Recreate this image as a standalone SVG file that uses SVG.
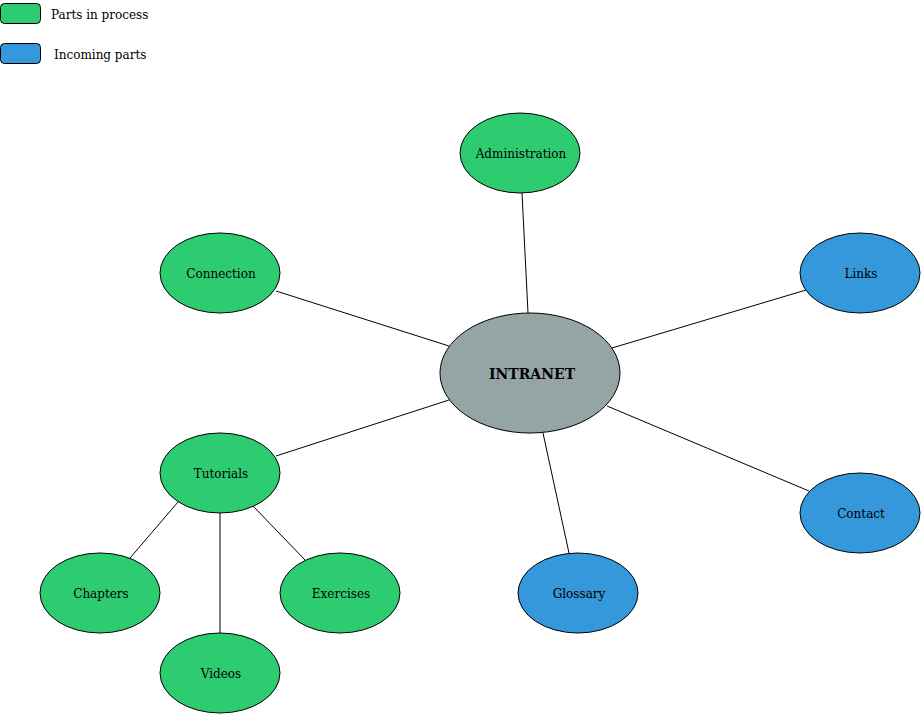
<svg xmlns="http://www.w3.org/2000/svg" width="921" height="714" viewBox="0 0 921 714">
<style>
.n{stroke:#000;stroke-width:1}
.g{fill:#2ECC71}
.b{fill:#3498DB}
.c{fill:#95A5A6}
text{font-family:"DejaVu Serif",serif;font-size:12px;fill:#000}
.t{text-anchor:middle;dominant-baseline:central}
.e line{stroke:#000;stroke-width:1}
</style>
<rect width="921" height="714" fill="#fff"/>
<g id="legend">
<rect x="0.5" y="3.5" width="40" height="20" rx="4" class="n g"/>
<text x="51" y="19">Parts in process</text>
<rect x="0.5" y="43.5" width="40" height="20" rx="4" class="n b"/>
<text x="54" y="59">Incoming parts</text>
</g>
<g class="e" id="connectors">
<line x1="522" y1="193" x2="528" y2="313"/>
<line x1="276" y1="291" x2="449" y2="346"/>
<line x1="806" y1="290" x2="612" y2="348"/>
<line x1="276" y1="456" x2="449" y2="400"/>
<line x1="809" y1="491" x2="607" y2="406"/>
<line x1="569" y1="553" x2="543" y2="433"/>
<line x1="130" y1="558" x2="178" y2="502"/>
<line x1="306" y1="561" x2="253" y2="506"/>
<line x1="220" y1="513" x2="220" y2="633"/>
</g>
<g id="intranet"><ellipse cx="530" cy="373" rx="90" ry="60" class="n c"/><text x="532" y="374" class="t" style="font-weight:bold;font-size:14px">INTRANET</text></g>
<g id="administration"><ellipse cx="520" cy="153" rx="60" ry="40" class="n g"/><text x="521" y="154" class="t">Administration</text></g>
<g id="connection"><ellipse cx="220" cy="273" rx="60" ry="40" class="n g"/><text x="221" y="274" class="t">Connection</text></g>
<g id="links"><ellipse cx="860" cy="273" rx="60" ry="40" class="n b"/><text x="861" y="274" class="t">Links</text></g>
<g id="tutorials"><ellipse cx="220" cy="473" rx="60" ry="40" class="n g"/><text x="221" y="474" class="t">Tutorials</text></g>
<g id="contact"><ellipse cx="860" cy="513" rx="60" ry="40" class="n b"/><text x="861" y="514" class="t">Contact</text></g>
<g id="glossary"><ellipse cx="578" cy="593" rx="60" ry="40" class="n b"/><text x="579" y="594" class="t">Glossary</text></g>
<g id="chapters"><ellipse cx="100" cy="593" rx="60" ry="40" class="n g"/><text x="101" y="594" class="t">Chapters</text></g>
<g id="exercises"><ellipse cx="340" cy="593" rx="60" ry="40" class="n g"/><text x="341" y="594" class="t">Exercises</text></g>
<g id="videos"><ellipse cx="220" cy="673" rx="60" ry="40" class="n g"/><text x="221" y="674" class="t">Videos</text></g>
</svg>
